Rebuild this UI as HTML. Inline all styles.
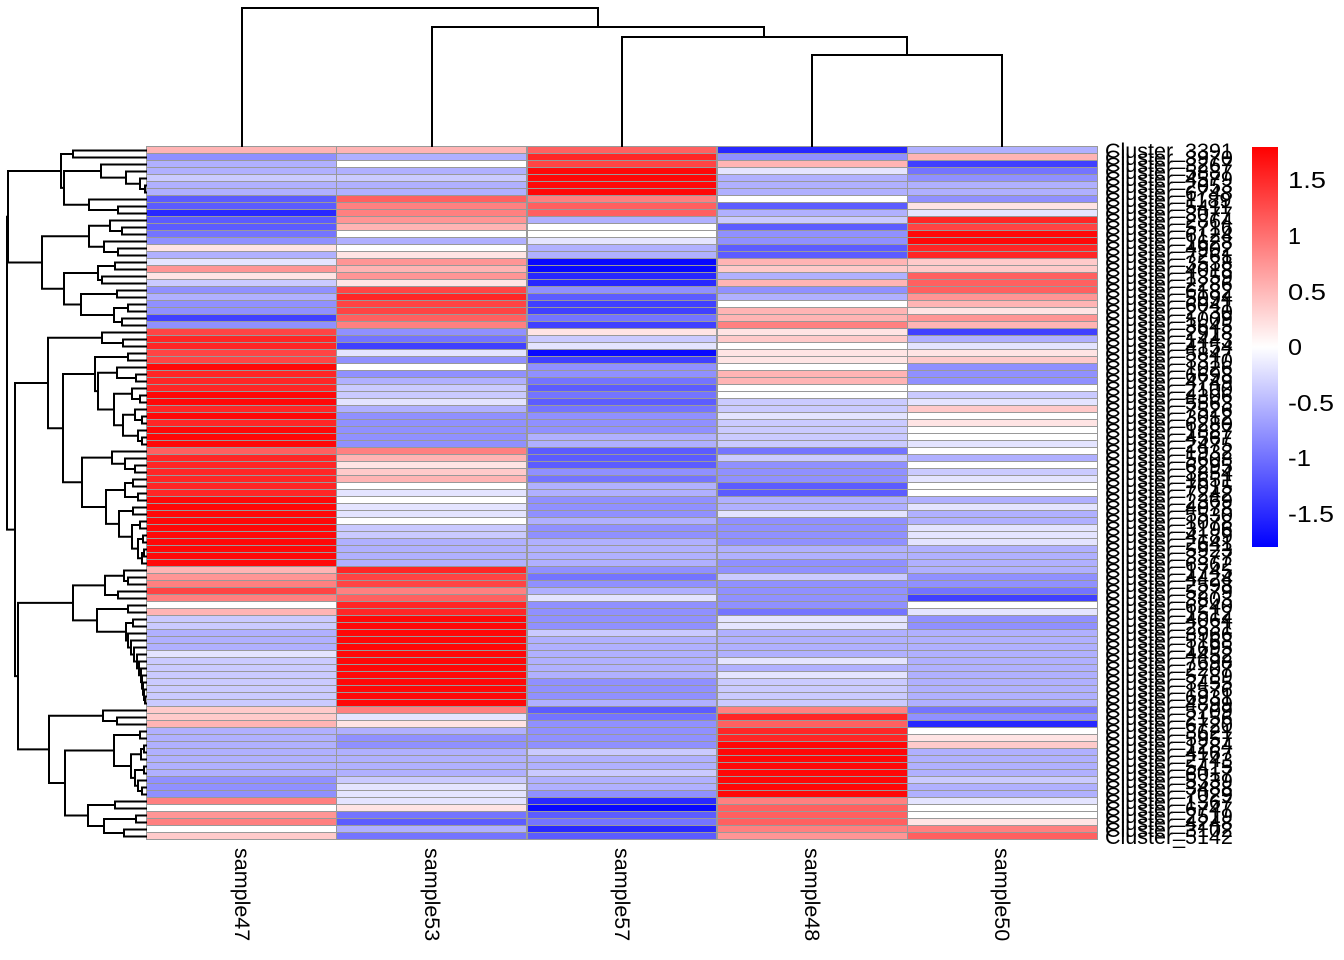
<!DOCTYPE html>
<html><head><meta charset="utf-8">
<style>
html,body{margin:0;padding:0;background:#fff;}
body{width:1344px;height:960px;position:relative;overflow:hidden;font-family:"Liberation Sans",Arial,sans-serif;}
.g{position:absolute;left:146px;top:146px;width:952px;height:694px;box-sizing:border-box;padding:1.2px;background:#999;display:grid;grid-template-columns:repeat(5,1fr);grid-template-rows:repeat(99,1fr);gap:1.4px;}
.g i{display:block;}
.w{background:#fff}
.b1{background:#e4e4ff}.b2{background:#cacaff}.b3{background:#b0b0ff}.b4{background:#9090ff}.b5{background:#7474ff}.b6{background:#5c5cff}.b7{background:#4040ff}.b8{background:#2828ff}.b9{background:#0808ff}
.r1{background:#ffe4e4}.r2{background:#ffcaca}.r3{background:#ffb4b4}.r4{background:#ff9595}.r5{background:#ff8080}.r6{background:#ff6060}.r7{background:#ff4444}.r8{background:#ff2626}.r9{background:#ff0808}
svg{position:absolute;left:0;top:0;}
</style></head><body>
<div class="g">
<i class=r3></i><i class=r3></i><i class=r6></i><i class=b8></i><i class=b3></i>
<i class=b4></i><i class=b3></i><i class=r8></i><i class=b4></i><i class=r3></i>
<i class=b3></i><i class=w></i><i class=r7></i><i class=r3></i><i class=b7></i>
<i class=b3></i><i class=b3></i><i class=r9></i><i class=b1></i><i class=b5></i>
<i class=b2></i><i class=b2></i><i class=r9></i><i class=b3></i><i class=b4></i>
<i class=b3></i><i class=b3></i><i class=r9></i><i class=b3></i><i class=b3></i>
<i class=b3></i><i class=b3></i><i class=r9></i><i class=b3></i><i class=b3></i>
<i class=b6></i><i class=r6></i><i class=r5></i><i class=w></i><i class=b4></i>
<i class=b6></i><i class=r5></i><i class=r6></i><i class=b6></i><i class=r1></i>
<i class=b8></i><i class=r5></i><i class=r6></i><i class=b3></i><i class=b1></i>
<i class=b6></i><i class=r4></i><i class=b3></i><i class=b2></i><i class=r8></i>
<i class=b6></i><i class=r3></i><i class=w></i><i class=b6></i><i class=r7></i>
<i class=b5></i><i class=w></i><i class=w></i><i class=b4></i><i class=r9></i>
<i class=b4></i><i class=b3></i><i class=b1></i><i class=b4></i><i class=r9></i>
<i class=r1></i><i class=w></i><i class=b3></i><i class=b6></i><i class=r8></i>
<i class=b3></i><i class=r1></i><i class=b3></i><i class=b6></i><i class=r8></i>
<i class=b1></i><i class=r4></i><i class=b9></i><i class=r3></i><i class=r2></i>
<i class=r4></i><i class=r3></i><i class=b9></i><i class=r2></i><i class=r2></i>
<i class=r1></i><i class=r4></i><i class=b8></i><i class=b3></i><i class=r6></i>
<i class=b2></i><i class=r1></i><i class=b8></i><i class=r3></i><i class=r6></i>
<i class=b4></i><i class=r7></i><i class=b4></i><i class=b4></i><i class=r6></i>
<i class=b3></i><i class=r8></i><i class=b6></i><i class=b3></i><i class=r4></i>
<i class=b4></i><i class=r7></i><i class=b7></i><i class=w></i><i class=r3></i>
<i class=b4></i><i class=r7></i><i class=b7></i><i class=r3></i><i class=r1></i>
<i class=b7></i><i class=r6></i><i class=b5></i><i class=r3></i><i class=r4></i>
<i class=b4></i><i class=r5></i><i class=b7></i><i class=r5></i><i class=r3></i>
<i class=r7></i><i class=b4></i><i class=r1></i><i class=r1></i><i class=b7></i>
<i class=r8></i><i class=b5></i><i class=b2></i><i class=r2></i><i class=b3></i>
<i class=r8></i><i class=b7></i><i class=b1></i><i class=w></i><i class=b1></i>
<i class=r7></i><i class=b1></i><i class=b9></i><i class=r1></i><i class=r1></i>
<i class=r7></i><i class=b4></i><i class=b7></i><i class=r1></i><i class=r2></i>
<i class=r9></i><i class=w></i><i class=b4></i><i class=w></i><i class=b4></i>
<i class=r8></i><i class=b4></i><i class=b4></i><i class=r3></i><i class=b4></i>
<i class=r8></i><i class=b3></i><i class=b5></i><i class=r3></i><i class=b4></i>
<i class=r8></i><i class=b2></i><i class=b6></i><i class=w></i><i class=w></i>
<i class=r9></i><i class=b2></i><i class=b5></i><i class=w></i><i class=b2></i>
<i class=r9></i><i class=b1></i><i class=b6></i><i class=b2></i><i class=b1></i>
<i class=r8></i><i class=b3></i><i class=b5></i><i class=b2></i><i class=r2></i>
<i class=r9></i><i class=b4></i><i class=b4></i><i class=b1></i><i class=w></i>
<i class=r8></i><i class=b4></i><i class=b4></i><i class=b2></i><i class=r1></i>
<i class=r9></i><i class=b4></i><i class=b4></i><i class=b2></i><i class=w></i>
<i class=r9></i><i class=b4></i><i class=b3></i><i class=b2></i><i class=w></i>
<i class=r9></i><i class=b4></i><i class=b3></i><i class=b2></i><i class=b1></i>
<i class=r6></i><i class=r5></i><i class=b6></i><i class=b5></i><i class=w></i>
<i class=r8></i><i class=r3></i><i class=b6></i><i class=b2></i><i class=b3></i>
<i class=r8></i><i class=r1></i><i class=b6></i><i class=b4></i><i class=w></i>
<i class=r8></i><i class=r2></i><i class=b4></i><i class=b4></i><i class=b2></i>
<i class=r8></i><i class=r3></i><i class=b5></i><i class=b4></i><i class=b1></i>
<i class=r8></i><i class=w></i><i class=b3></i><i class=b6></i><i class=w></i>
<i class=r8></i><i class=b1></i><i class=b3></i><i class=b6></i><i class=w></i>
<i class=r9></i><i class=w></i><i class=b4></i><i class=b3></i><i class=b3></i>
<i class=r9></i><i class=b1></i><i class=b4></i><i class=b3></i><i class=b1></i>
<i class=r9></i><i class=b1></i><i class=b4></i><i class=b1></i><i class=b3></i>
<i class=r9></i><i class=w></i><i class=b3></i><i class=b4></i><i class=b3></i>
<i class=r9></i><i class=b2></i><i class=b4></i><i class=b4></i><i class=b1></i>
<i class=r9></i><i class=b2></i><i class=b4></i><i class=b4></i><i class=b1></i>
<i class=r9></i><i class=b3></i><i class=b3></i><i class=b4></i><i class=b1></i>
<i class=r9></i><i class=b3></i><i class=b3></i><i class=b3></i><i class=b3></i>
<i class=r9></i><i class=b3></i><i class=b3></i><i class=b3></i><i class=b3></i>
<i class=r9></i><i class=b3></i><i class=b3></i><i class=b4></i><i class=b3></i>
<i class=r3></i><i class=r8></i><i class=b4></i><i class=b4></i><i class=b3></i>
<i class=r4></i><i class=r7></i><i class=b5></i><i class=b2></i><i class=b4></i>
<i class=r5></i><i class=r7></i><i class=b4></i><i class=b4></i><i class=b4></i>
<i class=r7></i><i class=r5></i><i class=b3></i><i class=b4></i><i class=b5></i>
<i class=r5></i><i class=r6></i><i class=b1></i><i class=b4></i><i class=b7></i>
<i class=w></i><i class=r8></i><i class=b4></i><i class=b4></i><i class=w></i>
<i class=r3></i><i class=r8></i><i class=b4></i><i class=b5></i><i class=b1></i>
<i class=b2></i><i class=r9></i><i class=b4></i><i class=b1></i><i class=b4></i>
<i class=b2></i><i class=r9></i><i class=b4></i><i class=b1></i><i class=b4></i>
<i class=b3></i><i class=r9></i><i class=b2></i><i class=b3></i><i class=b3></i>
<i class=b3></i><i class=r9></i><i class=b3></i><i class=b3></i><i class=b3></i>
<i class=b3></i><i class=r9></i><i class=b3></i><i class=b3></i><i class=b3></i>
<i class=b1></i><i class=r9></i><i class=b3></i><i class=b3></i><i class=b3></i>
<i class=b2></i><i class=r9></i><i class=b3></i><i class=b1></i><i class=b3></i>
<i class=b2></i><i class=r9></i><i class=b3></i><i class=b3></i><i class=b3></i>
<i class=b2></i><i class=r9></i><i class=b3></i><i class=b1></i><i class=b3></i>
<i class=b2></i><i class=r9></i><i class=b4></i><i class=b2></i><i class=b3></i>
<i class=b2></i><i class=r9></i><i class=b4></i><i class=b2></i><i class=b3></i>
<i class=b2></i><i class=r9></i><i class=b4></i><i class=b2></i><i class=b3></i>
<i class=b2></i><i class=r9></i><i class=b3></i><i class=b2></i><i class=b3></i>
<i class=r2></i><i class=r5></i><i class=b6></i><i class=r5></i><i class=b5></i>
<i class=r2></i><i class=b1></i><i class=b5></i><i class=r8></i><i class=b4></i>
<i class=r3></i><i class=r1></i><i class=b4></i><i class=r6></i><i class=b8></i>
<i class=b3></i><i class=b3></i><i class=b4></i><i class=r8></i><i class=w></i>
<i class=b3></i><i class=b4></i><i class=b4></i><i class=r8></i><i class=r1></i>
<i class=b3></i><i class=b4></i><i class=b4></i><i class=r9></i><i class=r2></i>
<i class=b3></i><i class=b3></i><i class=b2></i><i class=r9></i><i class=b3></i>
<i class=b3></i><i class=b3></i><i class=b3></i><i class=r9></i><i class=b3></i>
<i class=b3></i><i class=b3></i><i class=b3></i><i class=r9></i><i class=b3></i>
<i class=b3></i><i class=b3></i><i class=b2></i><i class=r9></i><i class=b3></i>
<i class=b4></i><i class=b2></i><i class=b3></i><i class=r9></i><i class=b2></i>
<i class=b4></i><i class=b1></i><i class=b3></i><i class=r9></i><i class=b3></i>
<i class=b4></i><i class=b1></i><i class=b4></i><i class=r9></i><i class=b3></i>
<i class=r5></i><i class=b1></i><i class=b8></i><i class=r5></i><i class=b1></i>
<i class=w></i><i class=r1></i><i class=b9></i><i class=r6></i><i class=w></i>
<i class=r4></i><i class=b5></i><i class=b6></i><i class=r6></i><i class=w></i>
<i class=r5></i><i class=b6></i><i class=b5></i><i class=r6></i><i class=r1></i>
<i class=w></i><i class=b3></i><i class=b8></i><i class=r5></i><i class=r5></i>
<i class=r2></i><i class=b5></i><i class=b6></i><i class=r4></i><i class=r6></i>
</div>
<svg width="1344" height="960" viewBox="0 0 1344 960" xmlns="http://www.w3.org/2000/svg">
<defs>
<linearGradient id="lg" x1="0" y1="0" x2="0" y2="1">
<stop offset="0" stop-color="#ff0000"/>
<stop offset="0.5" stop-color="#ffffff"/>
<stop offset="1" stop-color="#0000ff"/>
</linearGradient>
</defs>
<g fill="none" stroke="#000" stroke-width="2" stroke-linecap="square">
<path d="M242 146V8H598V27M432 146V27H764V37M622 146V37H907V55M812 146V55H1002V146"/>
<path d="M146 150.5H73V157.5H146M146 185.5H145V192.5H146M146 178.5H140V189H145M146 171.5H126V183.75H140M146 164.5H101V177.6H126M146 206.5H118V213.5H146M146 199.5H89V210H118M101 171H64V204.75H89M73 154H61V187.9H64
M146 227.5H122V234.5H146M146 220.5H110V231H122M146 248.5H118V255.5H146M146 241.5H104V252H118M110 225.75H89V246.75H104M146 262.5H115V269.5H146M146 276.5H102V283.5H146M115 266H98V280H102M146 290.5H117V297.5H146M146 304.5H128V311.5H146M146 318.5H122V325.5H146M128 308H114V322H122M117 294H81V315H114M98 273H64V304.5H81M89 236.25H42V288.75H64M61 171H8V262.5H42
M146 339.5H123V346.5H146M146 332.5H102V343H123
M146 353.5H128V360.5H146M146 374.5H136V381.5H146M146 367.5H117V378H136M146 395.5H140V402.5H146M146 388.5H132V399H140M146 416.5H142V423.5H146M146 409.5H135V420H142M146 437.5H142V444.5H146M146 430.5H138V441H142M135 414.75H123V435.75H138M132 393.75H114V425.25H123M117 372.75H98V409.5H114M128 357H95V391.1H98
M146 465.5H135V472.5H146M146 458.5H125V469H135M146 451.5H112V463.75H125M146 479.5H133V486.5H146M146 493.5H138V500.5H146M133 483H125V497H138M146 507.5H133V514.5H146M146 521.5H140V528.5H146M146 535.5H143V542.5H146M146 549.5H144V556.5H146M144 553H142V563.5H146M143 539H138V558.25H142M140 525H132V548.6H138M133 511H119V536.8H132M125 490H106V523.9H119M112 457.6H82V507H106M95 374H63V482.3H82M102 337.75H48V428.2H63
M146 577.5H128V584.5H146M146 570.5H124V581H128M146 591.5H118V598.5H146M124 575.75H105V595H118M146 605.5H128V612.5H146M146 619.5H133V626.5H146
M146 696.5H145V703.5H146M146 689.5H144V700H145M146 682.5H143V694.75H144M146 675.5H142V688.6H143M146 668.5H141V682.1H142M146 661.5H139V675.3H141M146 654.5H137V668.4H139M146 647.5H134V661.5H137M146 640.5H131V654.5H134M146 633.5H128V647.5H131M133 623H126V640.5H128M128 609H97V631.75H126M105 585.4H73V620.4H97
M146 717.5H117V724.5H146M146 710.5H103V721H117M146 731.5H140V738.5H146M146 745.5H144V752.5H146M144 749H141V759.5H146M146 766.5H144V773.5H146M146 787.5H142V794.5H146M146 780.5H138V791H142M144 770H135V785.75H138M141 754.25H131V777.9H135M140 735H114V766H131M146 801.5H115V808.5H146M146 815.5H136V822.5H146M146 829.5H124V836.5H146M136 819H104V833H124M115 805H88V826H104M114 750.5H65V815.5H88M103 715.75H49V783H65M73 602.9H18V749.4H49M48 383H15V676.1H18M8 216.75H7V529.6H15"/>
</g>
<rect x="1252" y="147" width="26" height="400" fill="url(#lg)"/>
<g font-family="Liberation Sans, Arial, sans-serif" font-size="23" fill="#000">
<text x="1288" y="188" textLength="38" lengthAdjust="spacingAndGlyphs">1.5</text>
<text x="1288" y="244" textLength="13" lengthAdjust="spacingAndGlyphs">1</text>
<text x="1288" y="300" textLength="38" lengthAdjust="spacingAndGlyphs">0.5</text>
<text x="1288" y="355" textLength="14" lengthAdjust="spacingAndGlyphs">0</text>
<text x="1288" y="411" textLength="46" lengthAdjust="spacingAndGlyphs">-0.5</text>
<text x="1288" y="466" textLength="23" lengthAdjust="spacingAndGlyphs">-1</text>
<text x="1288" y="522" textLength="46" lengthAdjust="spacingAndGlyphs">-1.5</text>
</g>
<g font-family="Liberation Sans, Arial, sans-serif" font-size="21.5" fill="#000">
<text transform="translate(235,848) rotate(90)">sample47</text>
<text transform="translate(425,848) rotate(90)">sample53</text>
<text transform="translate(615,848) rotate(90)">sample57</text>
<text transform="translate(805,848) rotate(90)">sample48</text>
<text transform="translate(995,848) rotate(90)">sample50</text>
</g>
<g font-family="Liberation Sans, Arial, sans-serif" font-size="21.5" fill="#000">
<text x="1105" y="158">Cluster_3391</text>
<text x="1105" y="165">Cluster_3970</text>
<text x="1105" y="172">Cluster_3267</text>
<text x="1105" y="179">Cluster_5887</text>
<text x="1105" y="186">Cluster_4579</text>
<text x="1105" y="193">Cluster_2053</text>
<text x="1105" y="200">Cluster_6748</text>
<text x="1105" y="207">Cluster_1189</text>
<text x="1105" y="214">Cluster_5411</text>
<text x="1105" y="221">Cluster_3077</text>
<text x="1105" y="228">Cluster_2864</text>
<text x="1105" y="235">Cluster_5716</text>
<text x="1105" y="242">Cluster_6124</text>
<text x="1105" y="249">Cluster_1628</text>
<text x="1105" y="256">Cluster_4902</text>
<text x="1105" y="263">Cluster_7261</text>
<text x="1105" y="270">Cluster_3538</text>
<text x="1105" y="277">Cluster_4018</text>
<text x="1105" y="284">Cluster_1359</text>
<text x="1105" y="291">Cluster_2286</text>
<text x="1105" y="298">Cluster_6182</text>
<text x="1105" y="305">Cluster_5094</text>
<text x="1105" y="312">Cluster_6041</text>
<text x="1105" y="319">Cluster_2730</text>
<text x="1105" y="326">Cluster_1009</text>
<text x="1105" y="333">Cluster_3645</text>
<text x="1105" y="340">Cluster_2918</text>
<text x="1105" y="347">Cluster_1443</text>
<text x="1105" y="354">Cluster_4154</text>
<text x="1105" y="361">Cluster_5847</text>
<text x="1105" y="368">Cluster_3310</text>
<text x="1105" y="375">Cluster_1026</text>
<text x="1105" y="382">Cluster_6698</text>
<text x="1105" y="389">Cluster_4749</text>
<text x="1105" y="396">Cluster_2100</text>
<text x="1105" y="403">Cluster_4306</text>
<text x="1105" y="410">Cluster_5563</text>
<text x="1105" y="417">Cluster_7526</text>
<text x="1105" y="424">Cluster_3012</text>
<text x="1105" y="431">Cluster_6280</text>
<text x="1105" y="438">Cluster_1887</text>
<text x="1105" y="445">Cluster_4567</text>
<text x="1105" y="452">Cluster_2475</text>
<text x="1105" y="459">Cluster_1932</text>
<text x="1105" y="466">Cluster_5608</text>
<text x="1105" y="473">Cluster_6295</text>
<text x="1105" y="480">Cluster_3854</text>
<text x="1105" y="487">Cluster_1651</text>
<text x="1105" y="494">Cluster_7015</text>
<text x="1105" y="501">Cluster_7242</text>
<text x="1105" y="508">Cluster_2369</text>
<text x="1105" y="515">Cluster_4078</text>
<text x="1105" y="522">Cluster_5530</text>
<text x="1105" y="529">Cluster_1078</text>
<text x="1105" y="536">Cluster_3196</text>
<text x="1105" y="543">Cluster_4189</text>
<text x="1105" y="550">Cluster_2641</text>
<text x="1105" y="557">Cluster_5923</text>
<text x="1105" y="564">Cluster_3377</text>
<text x="1105" y="571">Cluster_6362</text>
<text x="1105" y="578">Cluster_1745</text>
<text x="1105" y="585">Cluster_4424</text>
<text x="1105" y="592">Cluster_2598</text>
<text x="1105" y="599">Cluster_5279</text>
<text x="1105" y="606">Cluster_3803</text>
<text x="1105" y="613">Cluster_6240</text>
<text x="1105" y="620">Cluster_1512</text>
<text x="1105" y="627">Cluster_4064</text>
<text x="1105" y="634">Cluster_2831</text>
<text x="1105" y="641">Cluster_3966</text>
<text x="1105" y="648">Cluster_5168</text>
<text x="1105" y="655">Cluster_1695</text>
<text x="1105" y="662">Cluster_4452</text>
<text x="1105" y="669">Cluster_7698</text>
<text x="1105" y="676">Cluster_2207</text>
<text x="1105" y="683">Cluster_5789</text>
<text x="1105" y="690">Cluster_3455</text>
<text x="1105" y="697">Cluster_1576</text>
<text x="1105" y="704">Cluster_6931</text>
<text x="1105" y="711">Cluster_4899</text>
<text x="1105" y="718">Cluster_5709</text>
<text x="1105" y="725">Cluster_2156</text>
<text x="1105" y="732">Cluster_6720</text>
<text x="1105" y="739">Cluster_3621</text>
<text x="1105" y="746">Cluster_5957</text>
<text x="1105" y="753">Cluster_1284</text>
<text x="1105" y="760">Cluster_4167</text>
<text x="1105" y="767">Cluster_2743</text>
<text x="1105" y="774">Cluster_5415</text>
<text x="1105" y="781">Cluster_6017</text>
<text x="1105" y="788">Cluster_5339</text>
<text x="1105" y="795">Cluster_3488</text>
<text x="1105" y="802">Cluster_7029</text>
<text x="1105" y="809">Cluster_1367</text>
<text x="1105" y="816">Cluster_6747</text>
<text x="1105" y="823">Cluster_2519</text>
<text x="1105" y="830">Cluster_4248</text>
<text x="1105" y="837">Cluster_3102</text>
<text x="1105" y="844">Cluster_5142</text>
</g>
</svg>
</body></html>
